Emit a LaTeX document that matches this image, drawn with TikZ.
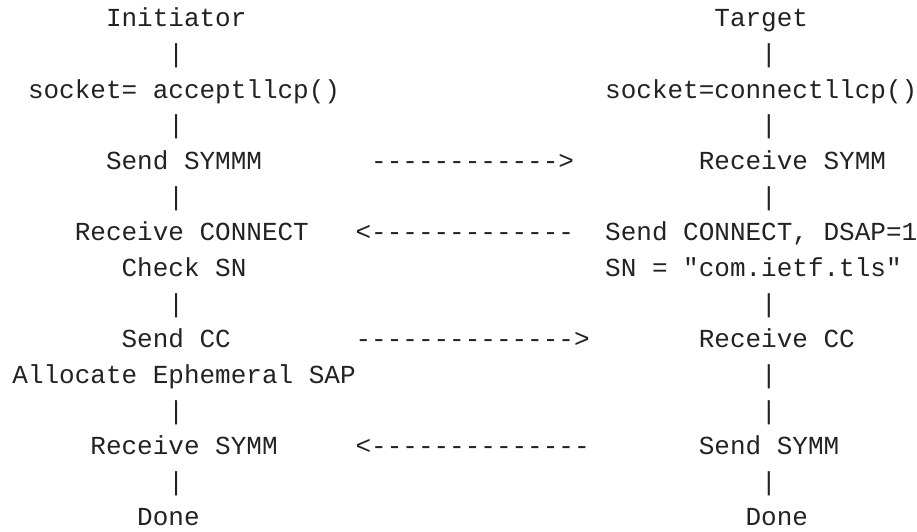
\documentclass[tikz,border=0pt]{standalone}
\usepackage{fontspec}
\newfontfamily\asciifont{Liberation Mono}
\definecolor{ink}{HTML}{222222}
% character grid: column width, left offset, line pitch, first baseline
\newcommand\gcw{15.6}
\newcommand\gxo{12.4}
\newcommand\glh{35.64}
\newcommand\gyo{504}
% place text at (column, row) of the grid
\newcommand\gridtext[4]{\node[txt] (#1) at ({\gxo+#2*\gcw},{\gyo-(#3-1)*\glh}) {#4};}
\begin{document}
\begin{tikzpicture}[x=1pt,y=1pt,
  txt/.style={anchor=base west,inner sep=0pt,outer sep=0pt,text=ink,
    font=\asciifont\fontsize{26}{26}\selectfont}]
\useasboundingbox (0,0) rectangle (917,531);
% headings
\gridtext{ini}{6}{1}{Initiator}
\gridtext{tgt}{45}{1}{Target}
\gridtext{lb2}{10}{2}{|}
\gridtext{rb2}{48}{2}{|}
% sockets
\gridtext{isock}{1}{3}{socket= acceptllcp()}
\gridtext{tsock}{38}{3}{socket=connectllcp()}
\gridtext{lb4}{10}{4}{|}
\gridtext{rb4}{48}{4}{|}
% SYMM exchange
\gridtext{isymm}{6}{5}{Send SYMMM}
\gridtext{ar5}{23}{5}{------------>}
\gridtext{tsymm}{44}{5}{Receive SYMM}
\gridtext{lb6}{10}{6}{|}
\gridtext{rb6}{48}{6}{|}
% CONNECT
\gridtext{iconn}{4}{7}{Receive CONNECT}
\gridtext{ar7}{22}{7}{<-------------}
\gridtext{tconn}{38}{7}{Send CONNECT, DSAP=1}
\gridtext{ichk}{7}{8}{Check SN}
\gridtext{tsn}{38}{8}{SN = "com.ietf.tls"}
\gridtext{lb9}{10}{9}{|}
\gridtext{rb9}{48}{9}{|}
% CC
\gridtext{icc}{7}{10}{Send CC}
\gridtext{ar10}{22}{10}{-------------->}
\gridtext{tcc}{44}{10}{Receive CC}
\gridtext{ialloc}{0}{11}{Allocate Ephemeral SAP}
\gridtext{rb11}{48}{11}{|}
\gridtext{lb12}{10}{12}{|}
\gridtext{rb12}{48}{12}{|}
% final SYMM
\gridtext{ifin}{5}{13}{Receive SYMM}
\gridtext{ar13}{22}{13}{<--------------}
\gridtext{tfin}{44}{13}{Send SYMM}
\gridtext{lb14}{10}{14}{|}
\gridtext{rb14}{48}{14}{|}
% done
\gridtext{idone}{8}{15}{Done}
\gridtext{tdone}{47}{15}{Done}
\end{tikzpicture}
\end{document}
